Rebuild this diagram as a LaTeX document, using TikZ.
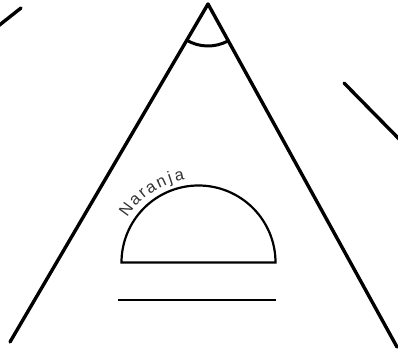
\documentclass[tikz,border=0pt]{standalone}
\usepackage{fontspec}
\newfontfamily\labelfont{Liberation Sans}

\begin{document}
\begin{tikzpicture}[
    x=1pt, y=1pt,
    side/.style={line width=3.4pt, line cap=round},
    bowl/.style={line width=2.2pt, line join=miter},
    base/.style={line width=1.8pt},
    letter/.style={font=\labelfont\fontsize{16.5}{18}\selectfont, text=black!80,
      inner sep=0pt, anchor=base},
  ]
    \useasboundingbox (0,0) rectangle (398,348);
    \clip (0,0) rectangle (398,348);

    \coordinate (apex) at (208,344);
    \coordinate (leftfoot) at (10,6);
    \coordinate (rightfoot) at (397,1);
    \coordinate (bowlc) at (198.5,85.5);

    % triangle and angle mark
    \draw[side, line join=round] (leftfoot) -- (apex) -- (rightfoot);
    \draw[line width=3pt] (apex) ++(239.7:42) arc[start angle=239.7, end angle=298.8, radius=42];

    % short strokes outside
    \draw[side] (-3,321) -- (21,340);
    \draw[side] (344,265) -- (404,204);

    % half circle with label
    \draw[bowl] (bowlc) ++(-77,0) arc[start angle=180, end angle=0, radius=77] -- cycle;
    \foreach \a/\c/\i in {144/N/1, 135.4/a/2, 129/r/3, 122.4/a/4, 114.8/n/5, 108.6/j/6, 102.4/a/7}
      \path (bowlc) ++(\a:84) node[letter, rotate=\a-90] (ch\i) {\c};

    \draw[base] (118,48) -- (276,48);
\end{tikzpicture}
\end{document}
